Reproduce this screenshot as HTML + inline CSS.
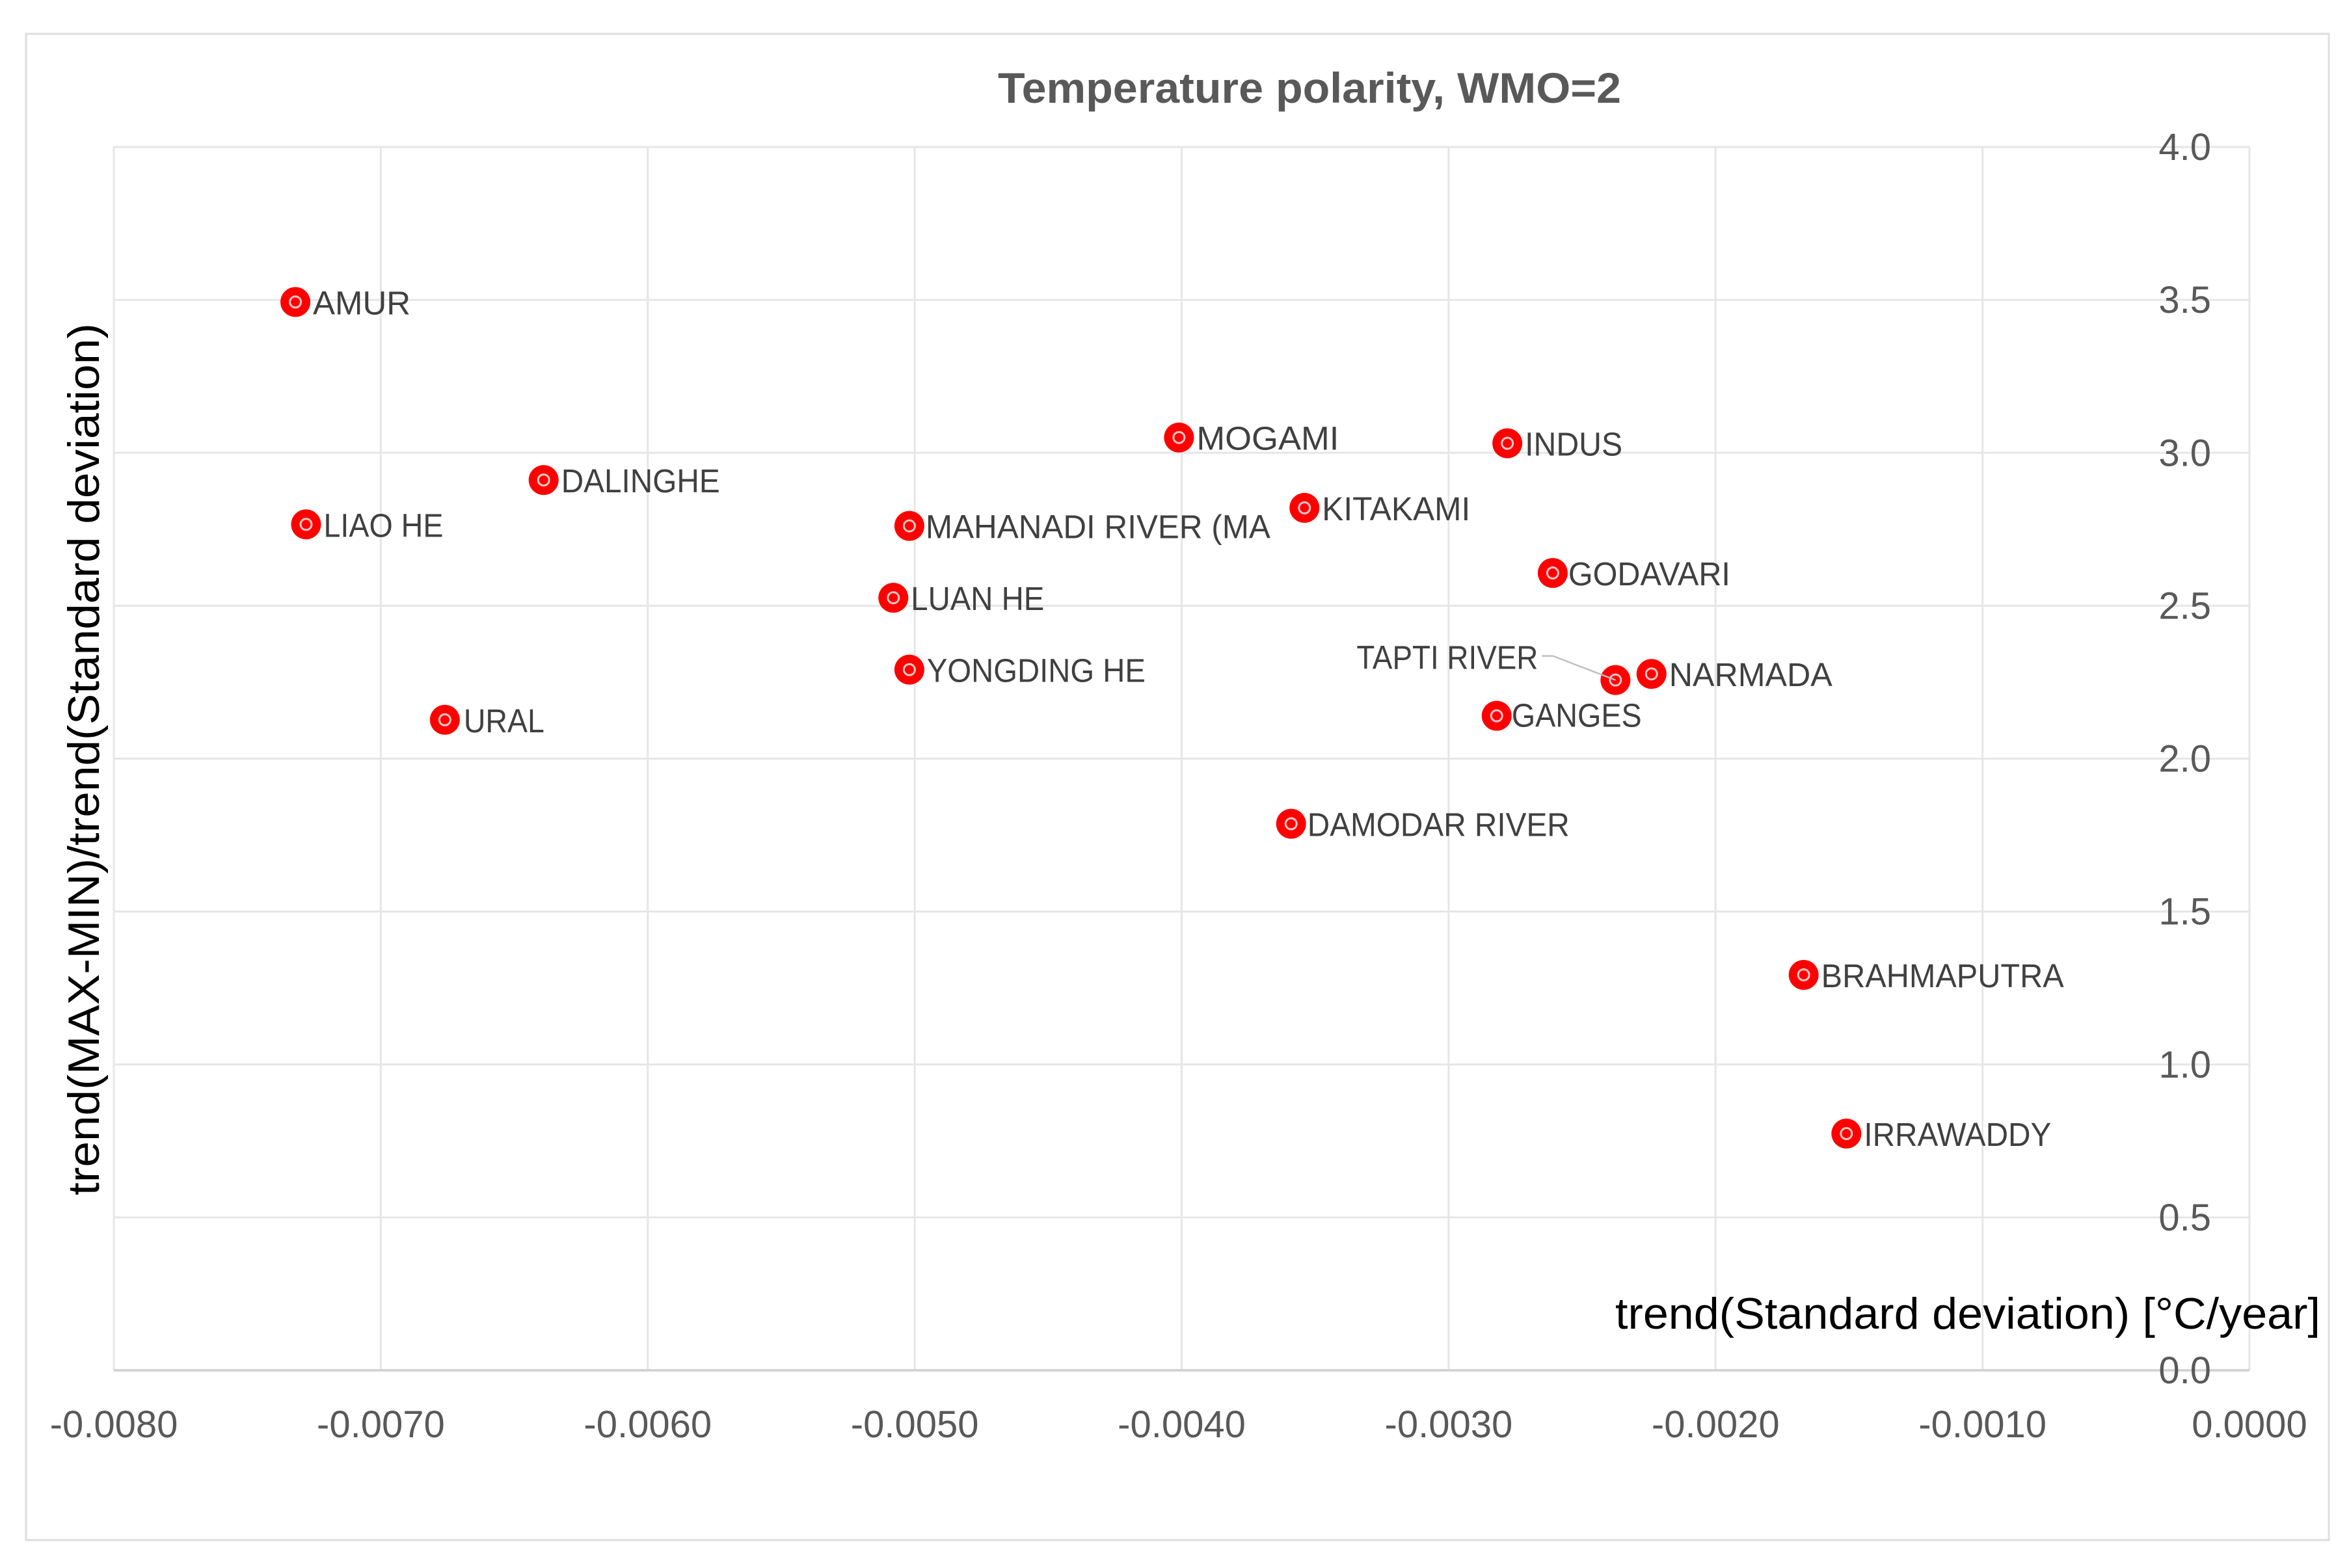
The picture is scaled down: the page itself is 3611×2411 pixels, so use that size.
<!DOCTYPE html>
<html lang="en">
<head>
<meta charset="utf-8">
<title>Temperature polarity, WMO=2</title>
<style>
html,body{margin:0;padding:0;background:#fff;}
svg{display:block;font-family:"Liberation Sans",sans-serif;}
</style>
</head>
<body>
<svg id="chart" xmlns="http://www.w3.org/2000/svg" width="3611" height="2411" viewBox="0 0 3611 2411">
  <rect x="0" y="0" width="3611" height="2411" fill="#ffffff"/>
  <rect x="40" y="52" width="3540" height="2316" fill="#ffffff" stroke="#dedede" stroke-width="3"/>
  <g id="grid"></g>
  <g id="ticks"></g>
  <g id="marks"></g>
  <g id="leaders"></g>
  <g id="labels"></g>
  <text x="2013" y="158" text-anchor="middle" font-size="66" font-weight="700" fill="#595959" textLength="958" lengthAdjust="spacingAndGlyphs">Temperature polarity, WMO=2</text>
  <text x="2483" y="2043" font-size="68" fill="#000000" textLength="1084" lengthAdjust="spacingAndGlyphs">trend(Standard deviation) [°C/year]</text>
  <text transform="translate(152,1838) rotate(-90)" x="0" y="0" font-size="68" fill="#000000" textLength="1341" lengthAdjust="spacingAndGlyphs">trend(MAX-MIN)/trend(Standard deviation)</text>
</svg>
<script>
const rivers = ["AMUR","LIAO HE","DALINGHE","URAL","MAHANADI RIVER (MA","LUAN HE","YONGDING HE","MOGAMI","KITAKAMI","INDUS","GODAVARI","TAPTI RIVER","NARMADA","GANGES","DAMODAR RIVER","BRAHMAPUTRA","IRRAWADDY"];
const stdTrend = [-0.00732,-0.00728,-0.00639,-0.00676,-0.00502,-0.00508,-0.00502,-0.00401,-0.00354,-0.00278,-0.00261,-0.002375,-0.00224,-0.00282,-0.00359,-0.00167,-0.00151];
const polarity = [3.493,2.766,2.911,2.127,2.761,2.526,2.291,3.05,2.82,3.031,2.607,2.257,2.277,2.14,1.787,1.293,0.774];
const xTickValues = [-0.008,-0.007,-0.006,-0.005,-0.004,-0.003,-0.002,-0.001,0];
const yTickValues = [0,0.5,1,1.5,2,2.5,3,3.5,4];

const NS = "http://www.w3.org/2000/svg";
const plot = {left:175, right:3458, top:226, bottom:2107};
const xMin = -0.008, xMax = 0, yMin = 0, yMax = 4;
/* label text layout: rendered width per label and small start nudges */
const labelStyle = {
  "AMUR":{w:150},
  "LIAO HE":{w:184},
  "DALINGHE":{w:244},
  "URAL":{w:124,dx:2},
  "MAHANADI RIVER (MA":{w:530,dx:-2},
  "LUAN HE":{w:205},
  "YONGDING HE":{w:336},
  "MOGAMI":{w:219},
  "KITAKAMI":{w:228},
  "INDUS":{w:150},
  "GODAVARI":{w:249,dx:-3},
  "TAPTI RIVER":{w:279},
  "NARMADA":{w:251},
  "GANGES":{w:200,dx:-4,dy:-2},
  "DAMODAR RIVER":{w:403,dx:-2},
  "BRAHMAPUTRA":{w:373},
  "IRRAWADDY":{w:288}
};
function xScale(v){ return plot.left + (v - xMin) / (xMax - xMin) * (plot.right - plot.left); }
function yScale(v){ return plot.bottom - (v - yMin) / (yMax - yMin) * (plot.bottom - plot.top); }
function make(tag, attrs, parent){
  const el = document.createElementNS(NS, tag);
  for (const k in attrs) el.setAttribute(k, attrs[k]);
  parent.appendChild(el);
  return el;
}
const grid = document.getElementById("grid");
const ticks = document.getElementById("ticks");
const marks = document.getElementById("marks");
const labels = document.getElementById("labels");
const leaders = document.getElementById("leaders");

xTickValues.forEach(function(v){
  const line = make("line", {x1:xScale(v), x2:xScale(v), y1:plot.top, y2:plot.bottom, stroke:"#e6e6e6", "stroke-width":3}, grid);
  
  
  const t = make("text", {x:xScale(v), y:2210, "text-anchor":"middle", "font-size":58, fill:"#595959"}, ticks);
  
  
  t.textContent = v.toFixed(4);
});
yTickValues.forEach(function(v){
  const isBase = v === yMin;
  const line = make("line", {x1:plot.left, x2:plot.right, y1:yScale(v), y2:yScale(v), stroke:isBase ? "#d4d4d4" : "#e6e6e6", "stroke-width":isBase ? 4 : 3}, grid);
  
  
  const t = make("text", {x:3399, y:yScale(v) + 20, "text-anchor":"end", "font-size":58, fill:"#595959"}, ticks);
  
  
  t.textContent = v.toFixed(1);
});

rivers.forEach(function(name, i){
  const cx = xScale(stdTrend[i]);
  const cy = yScale(polarity[i]);
  const outer = make("circle", {cx:cx, cy:cy, r:23, fill:"#ff0000"}, marks);
  
  
  const inner = make("circle", {cx:cx, cy:cy, r:8.5, fill:"#ff0000", stroke:"#ffc8c8", "stroke-width":3}, marks);
  
  
  const onLeft = name === "TAPTI RIVER";
  const fit = labelStyle[name] || {};
  const labelAttrs = {
    x:(onLeft ? cx - 119 : cx + 27) + (fit.dx || 0),
    y:(onLeft ? cy - 17 : cy + 19) + (fit.dy || 0),
    "text-anchor":onLeft ? "end" : "start",
    "font-size":51,
    fill:"#404040"
  };
  if (fit.w) {
    labelAttrs.textLength = fit.w;
    labelAttrs.lengthAdjust = "spacingAndGlyphs";
  }
  const label = make("text", labelAttrs, labels);
  
  
  label.textContent = name;
  if (onLeft) {
    const leader = make("polyline", {points:(cx - 113) + "," + (cy - 37) + " " + (cx - 96) + "," + (cy - 37) + " " + cx + "," + cy, fill:"none", stroke:"#bfbfbf", "stroke-width":2.5}, leaders);
    
    
  }
});
</script>
</body>
</html>
